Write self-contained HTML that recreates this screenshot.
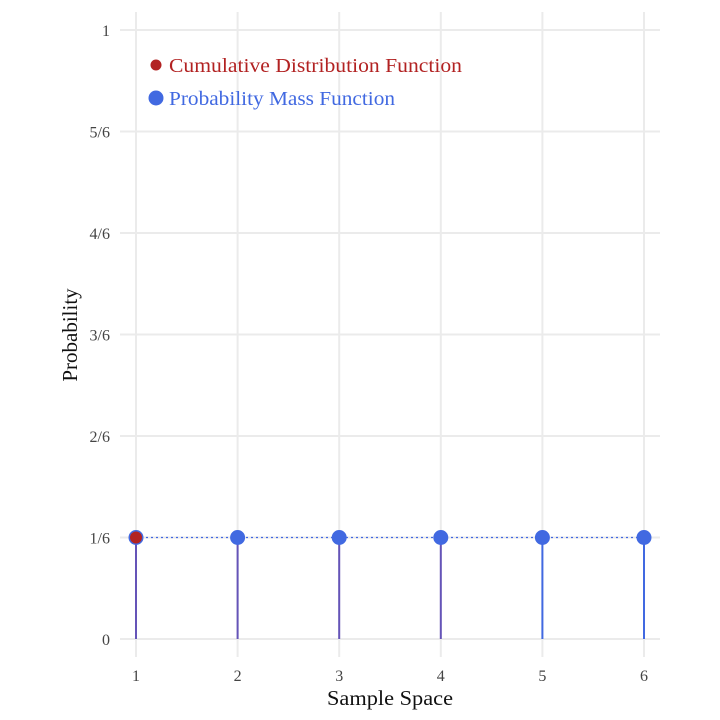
<!DOCTYPE html>
<html><head><meta charset="utf-8"><style>
body{margin:0;background:#fff}
svg{display:block;font-family:"Liberation Serif",serif}
</style></head><body>
<svg width="720" height="720">
<g id="grid"></g>
<g id="marks"></g>
<g id="labels"></g>
<text x="390" y="705" text-anchor="middle" font-size="21" fill="#111" textLength="126" lengthAdjust="spacingAndGlyphs">Sample Space</text>
<text transform="translate(77,335) rotate(-90)" text-anchor="middle" font-size="21" fill="#111">Probability</text>
<g>
<circle cx="156" cy="65" r="5.5" fill="#b22222"/>
<text x="169" y="72" font-size="20" fill="#b22222" textLength="293" lengthAdjust="spacingAndGlyphs">Cumulative Distribution Function</text>
<circle cx="156" cy="98" r="7.5" fill="#4169e1"/>
<text x="169" y="105" font-size="20" fill="#4169e1" textLength="226" lengthAdjust="spacingAndGlyphs">Probability Mass Function</text>
</g>
</svg>
<script>
const outcomes=[1,2,3,4,5,6];
const pmf=[1/6,1/6,1/6,1/6,1/6,1/6];
const cdfShown=[1/6];
const stemPurple=[true,true,true,true,false,false];
const yTickVals=[0,1/6,2/6,3/6,4/6,5/6,1];
const yTickLabels=["0","1/6","2/6","3/6","4/6","5/6","1"];
const xTickLabels=["1","2","3","4","5","6"];
const NS="http://www.w3.org/2000/svg";
const X=v=>136+(v-1)*101.6;
const Y=v=>639-v*609;
function mk(p,t,a){const e=document.createElementNS(NS,t);for(const k in a)e.setAttribute(k,a[k]);p.appendChild(e);return e;}
const g=document.getElementById('grid'),m=document.getElementById('marks'),l=document.getElementById('labels');
yTickVals.forEach((v,i)=>{
 const ln=mk(g,'line',{x1:120,x2:660,y1:Y(v),y2:Y(v),stroke:'#ebebeb','stroke-width':2});
 
 
 const t=mk(l,'text',{x:110,y:Y(v)+6,'text-anchor':'end','font-size':16,fill:'#444'});
 t.textContent=yTickLabels[i];
 
 
});
outcomes.forEach((v,i)=>{
 const ln=mk(g,'line',{x1:X(v),x2:X(v),y1:12,y2:657,stroke:'#ebebeb','stroke-width':2});
 
 
 const t=mk(l,'text',{x:X(v),y:681,'text-anchor':'middle','font-size':16,fill:'#444'});
 t.textContent=xTickLabels[i];
 
 
});
const dl=mk(m,'line',{x1:X(outcomes[0]),x2:X(outcomes[outcomes.length-1]),y1:Y(pmf[0]),y2:Y(pmf[0]),stroke:'#4169e1','stroke-width':1.2,'stroke-dasharray':'2,3'});


outcomes.forEach((v,i)=>{
 const s=mk(m,'line',{x1:X(v),x2:X(v),y1:Y(0),y2:Y(pmf[i]),stroke:stemPurple[i]?'#6554b8':'#4169e1','stroke-width':2});
 
 
});
outcomes.forEach((v,i)=>{
 const c=mk(m,'circle',{cx:X(v),cy:Y(pmf[i]),r:7.5,fill:'#4169e1'});
 
 
});
cdfShown.forEach((v,i)=>{
 const c=mk(m,'circle',{cx:X(outcomes[i]),cy:Y(v),r:6,fill:'#b22222'});
 
 
});
</script>
</body></html>
